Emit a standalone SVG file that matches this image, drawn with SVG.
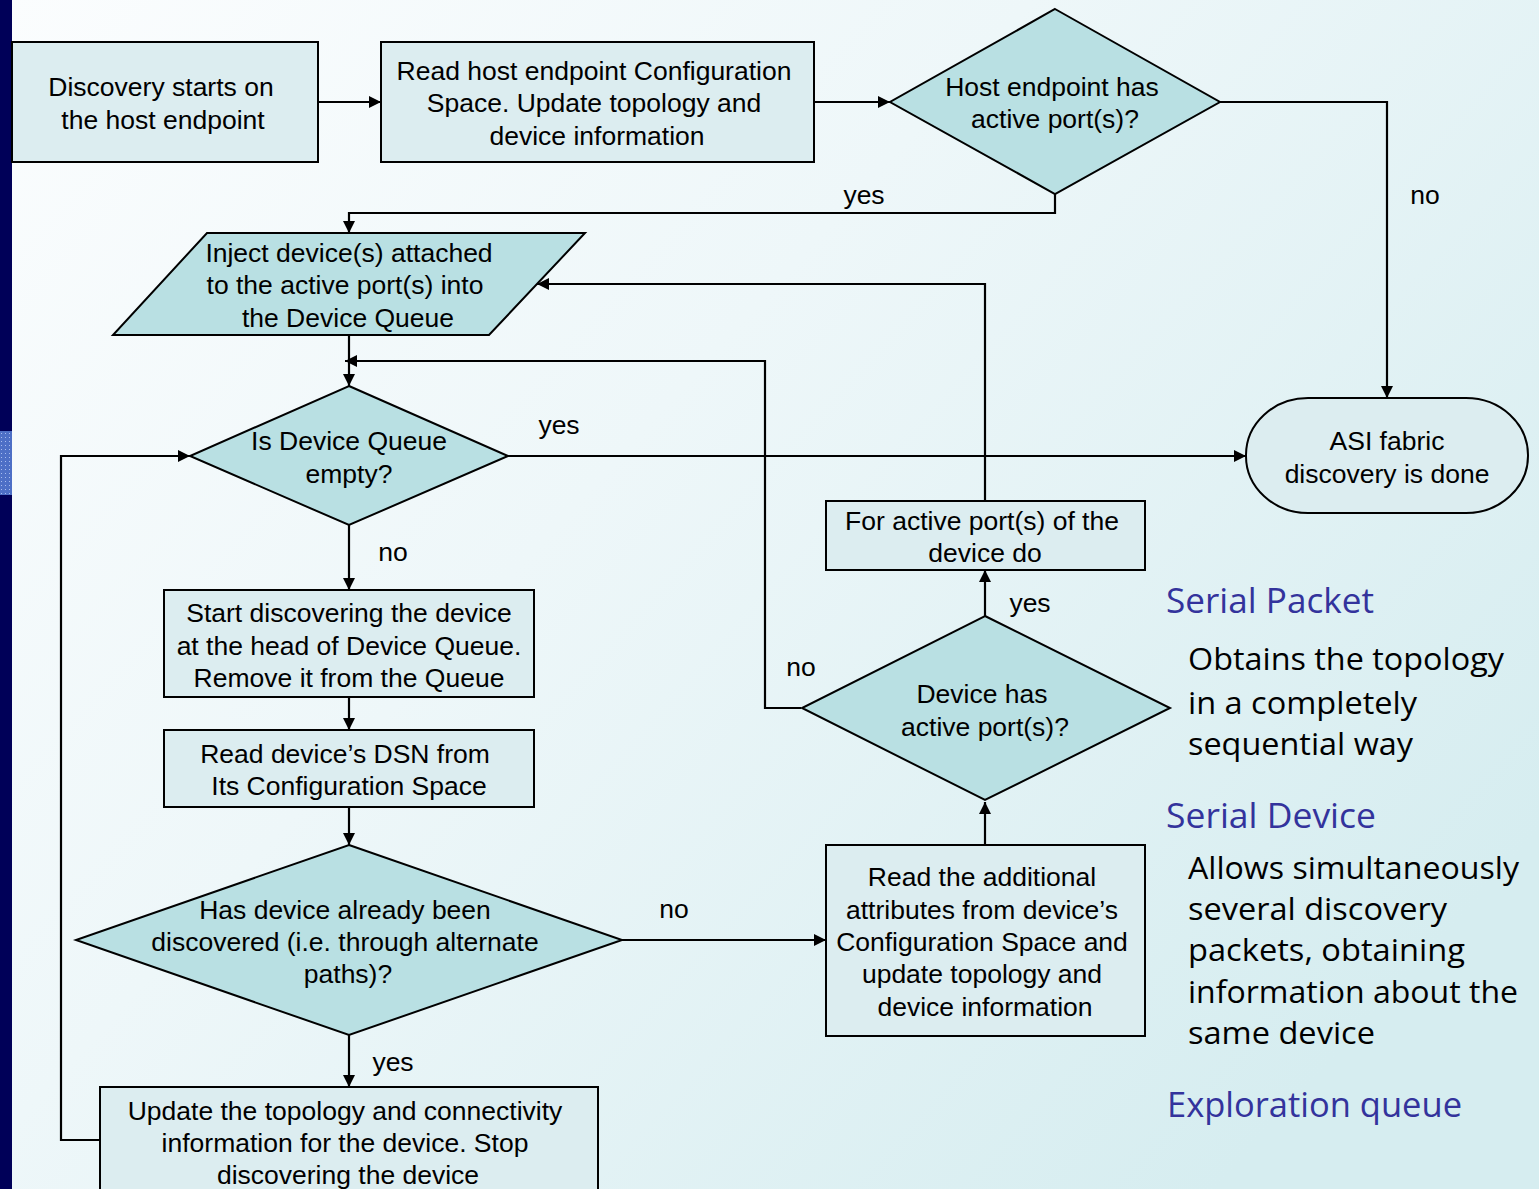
<svg xmlns="http://www.w3.org/2000/svg" width="1539" height="1189" viewBox="0 0 1539 1189">
  <defs>
    <linearGradient id="bg" x1="0" y1="0" x2="1" y2="0.7">
      <stop offset="0" stop-color="#fbfdfe"/>
      <stop offset="0.45" stop-color="#eef7f9"/>
      <stop offset="1" stop-color="#d6edf0"/>
    </linearGradient>
    <pattern id="dots" width="4" height="4" patternUnits="userSpaceOnUse">
      <rect width="4" height="4" fill="#4d6fc6"/>
      <rect x="1" y="1" width="1" height="1" fill="#a9bdf0"/>
    </pattern>
    <marker id="arrow" markerUnits="userSpaceOnUse" markerWidth="13" markerHeight="12" refX="12" refY="6" orient="auto">
      <path d="M0,0 L12,6 L0,12 z" fill="#000"/>
    </marker>
    <style>
      .box { fill: #dcedf0; stroke: #000; stroke-width: 2; }
      .dec { fill: #b9e0e3; stroke: #000; stroke-width: 2; }
      .t { font-family: "Liberation Sans", Arial, sans-serif; font-size: 26.5px; fill: #000; text-anchor: middle; }
      .lbl { font-family: "Liberation Sans", Arial, sans-serif; font-size: 26.5px; fill: #000; text-anchor: middle; }
      .edge { fill: none; stroke: #000; stroke-width: 2.2; }
      .arr { marker-end: url(#arrow); }
      .head { font-family: "Open Sans", "Noto Sans", sans-serif; font-size: 34px; fill: #33339c; }
      .body { font-family: "Open Sans", "Noto Sans", sans-serif; font-size: 31px; fill: #000; }
    </style>
  </defs>

  <!-- slide background -->
  <rect width="1539" height="1189" fill="url(#bg)"/>
  <rect x="0" y="0" width="12" height="1189" fill="#000058"/>
  <rect x="0" y="431" width="12" height="64" fill="url(#dots)"/>

  <!-- connectors -->
  <g id="connectors">
    <path class="edge arr" d="M318,102 H381"/>
    <path class="edge arr" d="M814,102 H890"/>
    <path class="edge arr" d="M1055,194 V213 H349 V233"/>
    <path class="edge arr" d="M1220,102 H1387 V398"/>
    <path class="edge arr" d="M349,335 V386"/>
    <path class="edge arr" d="M349,525 V590"/>
    <path class="edge arr" d="M349,697 V730"/>
    <path class="edge arr" d="M349,807 V845"/>
    <path class="edge arr" d="M349,1035 V1087"/>
    <path class="edge arr" d="M622,940 H826"/>
    <path class="edge arr" d="M985,845 V802"/>
    <path class="edge arr" d="M985,616 V570"/>
    <path class="edge arr" d="M985,501 V284 H537"/>
    <path class="edge arr" d="M801,708 H765 V361 H345"/>
    <path class="edge arr" d="M508,456 H1246"/>
    <path class="edge arr" d="M100,1140 H61 V456 H190"/>

    <text class="lbl" x="864" y="204">yes</text>
    <text class="lbl" x="1425" y="204">no</text>
    <text class="lbl" x="559" y="434">yes</text>
    <text class="lbl" x="393" y="561">no</text>
    <text class="lbl" x="801" y="676">no</text>
    <text class="lbl" x="1030" y="612">yes</text>
    <text class="lbl" x="674" y="918">no</text>
    <text class="lbl" x="393" y="1071">yes</text>
  </g>

  <!-- nodes -->
  <g id="start">
    <rect class="box" x="12" y="42" width="306" height="120"/>
    <text class="t" x="161" y="96">Discovery starts on</text>
    <text class="t" x="163" y="129">the host endpoint</text>
  </g>

  <g id="read-host">
    <rect class="box" x="381" y="42" width="433" height="120"/>
    <text class="t" x="594" y="80">Read host endpoint Configuration</text>
    <text class="t" x="594" y="112">Space. Update topology and</text>
    <text class="t" x="597" y="145">device information</text>
  </g>

  <g id="host-active">
    <polygon class="dec" points="1055,9 1220,102 1055,194 890,102"/>
    <text class="t" x="1052" y="96">Host endpoint has</text>
    <text class="t" x="1055" y="128">active port(s)?</text>
  </g>

  <g id="inject">
    <polygon class="dec" points="207,233 585,233 489,335 113,335"/>
    <text class="t" x="349" y="262">Inject device(s) attached</text>
    <text class="t" x="345" y="294">to the active port(s) into</text>
    <text class="t" x="348" y="327">the Device Queue</text>
  </g>

  <g id="queue-empty">
    <polygon class="dec" points="349,386 508,456 349,525 190,456"/>
    <text class="t" x="349" y="450">Is Device Queue</text>
    <text class="t" x="349" y="483">empty?</text>
  </g>

  <g id="done">
    <rect class="box" x="1246" y="398" width="282" height="115" rx="62" ry="57"/>
    <text class="t" x="1387" y="450">ASI fabric</text>
    <text class="t" x="1387" y="483">discovery is done</text>
  </g>

  <g id="start-device">
    <rect class="box" x="164" y="590" width="370" height="107"/>
    <text class="t" x="349" y="622">Start discovering the device</text>
    <text class="t" x="349" y="655">at the head of Device Queue.</text>
    <text class="t" x="349" y="687">Remove it from the Queue</text>
  </g>

  <g id="read-dsn">
    <rect class="box" x="164" y="730" width="370" height="77"/>
    <text class="t" x="345" y="763">Read device’s DSN from</text>
    <text class="t" x="349" y="795">Its Configuration Space</text>
  </g>

  <g id="already-discovered">
    <polygon class="dec" points="349,845 622,940 349,1035 76,940"/>
    <text class="t" x="345" y="919">Has device already been</text>
    <text class="t" x="345" y="951">discovered (i.e. through alternate</text>
    <text class="t" x="348" y="983">paths)?</text>
  </g>

  <g id="update-stop">
    <rect class="box" x="100" y="1087" width="498" height="120"/>
    <text class="t" x="345" y="1120">Update the topology and connectivity</text>
    <text class="t" x="345" y="1152">information for the device. Stop</text>
    <text class="t" x="348" y="1184">discovering the device</text>
  </g>

  <g id="read-attributes">
    <rect class="box" x="826" y="845" width="319" height="191"/>
    <text class="t" x="982" y="886">Read the additional</text>
    <text class="t" x="982" y="919">attributes from device’s</text>
    <text class="t" x="982" y="951">Configuration Space and</text>
    <text class="t" x="982" y="983">update topology and</text>
    <text class="t" x="985" y="1016">device information</text>
  </g>

  <g id="device-active">
    <polygon class="dec" points="985,616 1170,708 985,800 802,708"/>
    <text class="t" x="982" y="703">Device has</text>
    <text class="t" x="985" y="736">active port(s)?</text>
  </g>

  <g id="for-ports">
    <rect class="box" x="826" y="501" width="319" height="69"/>
    <text class="t" x="982" y="530">For active port(s) of the</text>
    <text class="t" x="985" y="562">device do</text>
  </g>

  <!-- side notes -->
  <g id="notes">
    <text class="head" x="1166" y="613" textLength="208" lengthAdjust="spacingAndGlyphs">Serial Packet</text>
    <text class="body" x="1188" y="670" textLength="316" lengthAdjust="spacingAndGlyphs">Obtains the topology</text>
    <text class="body" x="1188" y="714" textLength="229" lengthAdjust="spacingAndGlyphs">in a completely</text>
    <text class="body" x="1188" y="755" textLength="225" lengthAdjust="spacingAndGlyphs">sequential way</text>
    <text class="head" x="1166" y="828" textLength="210" lengthAdjust="spacingAndGlyphs">Serial Device</text>
    <text class="body" x="1188" y="879" textLength="331" lengthAdjust="spacingAndGlyphs">Allows simultaneously</text>
    <text class="body" x="1188" y="920" textLength="259" lengthAdjust="spacingAndGlyphs">several discovery</text>
    <text class="body" x="1188" y="961" textLength="277" lengthAdjust="spacingAndGlyphs">packets, obtaining</text>
    <text class="body" x="1188" y="1003" textLength="330" lengthAdjust="spacingAndGlyphs">information about the</text>
    <text class="body" x="1188" y="1044" textLength="187" lengthAdjust="spacingAndGlyphs">same device</text>
    <text class="head" x="1167" y="1117" textLength="295" lengthAdjust="spacingAndGlyphs">Exploration queue</text>
  </g>
</svg>
